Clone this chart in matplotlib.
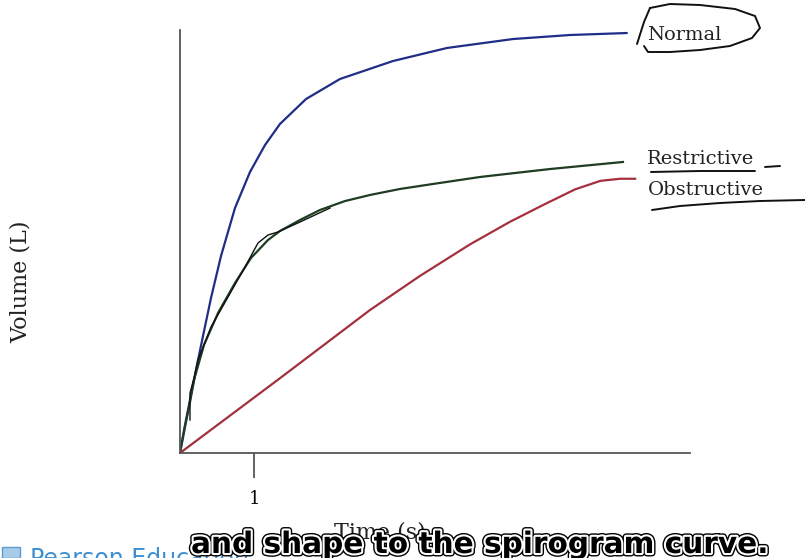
import matplotlib
matplotlib.use('Agg')
import matplotlib.pyplot as plt
import matplotlib.patheffects as pe
from matplotlib.patches import Rectangle

# ---- curve readings (time in s, volume in L) ----
normal_t = [0, 0.068, 0.135, 0.216, 0.311, 0.419, 0.554, 0.743, 0.946, 1.149, 1.351, 1.703,
            2.162, 2.878, 3.608, 4.500, 5.270, 6.035]
normal_v = [0, 0.369, 0.723, 1.177, 1.660, 2.199, 2.794, 3.475, 3.986, 4.369, 4.667, 5.021,
            5.305, 5.560, 5.745, 5.872, 5.929, 5.957]

restrictive_t = [0, 0.054, 0.108, 0.189, 0.324, 0.514, 0.743, 0.959, 1.189, 1.351, 1.622, 1.892,
                 2.230, 2.568, 2.973, 3.419, 4.054, 5.000, 5.986]
restrictive_v = [0, 0.326, 0.610, 1.035, 1.532, 1.986, 2.411, 2.766, 3.021, 3.149, 3.305, 3.447,
                 3.574, 3.660, 3.745, 3.816, 3.915, 4.028, 4.128]

obstructive_t = [0, 1.35, 2.57, 3.24, 3.92, 4.46, 4.93, 5.34, 5.68, 5.95, 6.15]
obstructive_v = [0, 1.06, 2.03, 2.51, 2.96, 3.28, 3.53, 3.74, 3.86, 3.89, 3.89]

# pen scribble traced over the restrictive curve
scribble_t = [0.135, 0.135, 0.189, 0.243, 0.419, 0.649, 0.878, 1.054, 1.189, 1.324, 1.622, 2.027]
scribble_v = [0.468, 0.851, 1.064, 1.319, 1.787, 2.213, 2.638, 2.979, 3.092, 3.135, 3.277, 3.475]

x_ticks = [1]
x_ticklabels = ['1']

W, H = 805, 558

def fig_xy(px, py):
    return px / W, 1 - py / H

fig = plt.figure(figsize=(W / 100, H / 100), dpi=100)
fig.patch.set_facecolor('white')
ax = fig.add_axes([180 / W, 105 / H, 510 / W, 423 / H])

ax.plot(normal_t, normal_v, color='#1f2d86', lw=1.6)
ax.plot(restrictive_t, restrictive_v, color='#1e3d22', lw=1.6)
ax.plot(obstructive_t, obstructive_v, color='#a3303c', lw=1.6)
ax.plot(scribble_t, scribble_v, color='#111111', lw=1.0)

ax.set_xlim(0, 510 / 74)
ax.set_ylim(0, 6.0)
for s in ['top', 'right']:
    ax.spines[s].set_visible(False)
for s in ['left', 'bottom']:
    ax.spines[s].set_color('#555555')
    ax.spines[s].set_linewidth(1.3)
ax.set_yticks([])
ax.set_xticks(x_ticks)
ax.set_xticklabels(x_ticklabels, family='DejaVu Serif', fontsize=13)
ax.tick_params(axis='x', length=18, width=1.3, color='#555555', pad=9)
ax.patch.set_alpha(0)

serif = 'DejaVu Serif'
fig.text(*fig_xy(21, 282), 'Volume (L)', rotation=90, ha='center', va='center',
         family=serif, fontsize=16, color='#222222')
fig.text(*fig_xy(380, 533), 'Time (s)', ha='center', va='center',
         family=serif, fontsize=16, color='#222222')

fig.text(*fig_xy(647, 35), 'Normal', ha='left', va='center', family=serif, fontsize=14, color='#222222')
fig.text(*fig_xy(647, 159), 'Restrictive', ha='left', va='center', family=serif, fontsize=14, color='#222222')
fig.text(*fig_xy(648, 190), 'Obstructive', ha='left', va='center', family=serif, fontsize=14, color='#222222')

# hand drawn pen marks
def pen(pts, lw=1.4):
    xs = [p[0] / W for p in pts]
    ys = [1 - p[1] / H for p in pts]
    fig.add_artist(plt.Line2D(xs, ys, transform=fig.transFigure, color='#111111', lw=lw,
                              solid_capstyle='round', solid_joinstyle='round'))

pen([(637, 44), (644, 22), (650, 8)])
pen([(650, 8), (670, 4), (700, 5), (735, 9), (755, 16), (760, 28), (752, 38),
     (730, 46), (700, 50), (670, 52), (648, 52), (644, 46)])
pen([(651, 172), (700, 171), (755, 171)])
pen([(765, 167), (780, 166)])
pen([(652, 210), (680, 206), (720, 203), (760, 201), (805, 200)])

# channel watermark and caption
fig.add_artist(Rectangle((2 / W, 0), 18 / W, 11 / H, transform=fig.transFigure,
                         facecolor='#a9cbe8', edgecolor='#5a9ad6', lw=1.0))
fig.text(*fig_xy(30, 566), 'Pearson Education', ha='left', va='baseline',
         fontsize=17, color='#3d8fd1')
fig.text(*fig_xy(480, 553), 'and shape to the spirogram curve.', ha='center', va='baseline',
         fontsize=21.3, fontweight='bold', color='black',
         path_effects=[pe.Stroke(linewidth=5, foreground='black'),
                       pe.Stroke(linewidth=3, foreground='white'),
                       pe.Normal()])

fig.savefig('out.png', dpi=100)
